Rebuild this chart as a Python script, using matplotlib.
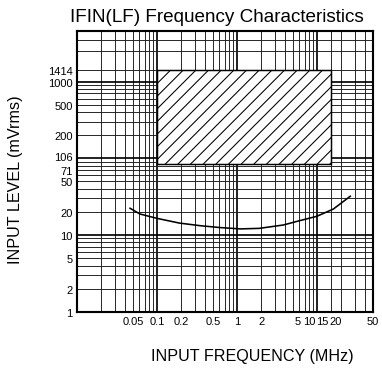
import matplotlib
matplotlib.use("Agg")
import matplotlib.pyplot as plt
import matplotlib.transforms as mtransforms
from matplotlib.patches import Rectangle

# data
freq_mhz = [0.046, 0.061, 0.099, 0.19, 0.35, 0.61, 1.1, 1.9, 3.8, 6.1, 9.9, 16, 26]
level_mvrms = [22.3, 18.8, 16.5, 14.3, 13.2, 12.5, 12.0, 12.2, 13.5, 15.4, 17.5, 21.8, 32]

# operating (hatched) region
region_freq = [0.1, 15]
region_level = [83, 1414]

x_ticks = [0.05, 0.1, 0.2, 0.5, 1, 2, 5, 10, 15, 20, 50]
x_ticklabels = ["0.05", "0.1", "0.2", "0.5", "1", "2", "5", "10", "15", "20", "50"]
y_ticks = [1, 2, 5, 10, 20, 50, 71, 106, 200, 500, 1000, 1414]
y_ticklabels = ["1", "2", "5", "10", "20", "50", "71", "106", "200", "500", "1000", "1414"]

x_major_grid = [0.1, 1, 10]
x_minor_grid = [0.02, 0.03, 0.04, 0.05, 0.06, 0.07, 0.08, 0.09,
                0.2, 0.3, 0.4, 0.5, 0.6, 0.7, 0.8, 0.9,
                2, 3, 4, 5, 6, 7, 8, 9, 15, 20, 30, 40]
y_major_grid = [10, 100, 1000]
y_minor_grid = [2, 3, 4, 5, 6, 7, 8, 9,
                20, 30, 40, 50, 60, 70, 80, 90,
                200, 300, 400, 500, 600, 700, 800, 900,
                1414, 2500, 3500]

DPI = 76.4
fig = plt.figure(figsize=(382 / DPI, 371 / DPI), dpi=DPI)
plt.rcParams['font.family'] = ['Liberation Sans', 'DejaVu Sans']
ax = fig.add_axes([77 / 382, 1 - 312.7 / 371, 296 / 382, 281 / 371])
ax.set_xscale('log')
ax.set_yscale('log')
ax.set_xlim(0.01, 50)
ax.set_ylim(1, 4600)

for v in x_minor_grid:
    ax.axvline(v, color='#222222', lw=0.9, zorder=1)
for v in x_major_grid:
    ax.axvline(v, color='black', lw=1.6, zorder=1)
for v in y_minor_grid:
    ax.axhline(v, color='#222222', lw=0.9, zorder=1)
for v in y_major_grid:
    ax.axhline(v, color='black', lw=1.6, zorder=1)

rect = Rectangle((region_freq[0], region_level[0]),
                 region_freq[1] - region_freq[0],
                 region_level[1] - region_level[0],
                 facecolor='white', edgecolor='black', hatch='//', lw=1.4, zorder=2)
ax.add_patch(rect)

ax.plot(freq_mhz, level_mvrms, color='black', lw=1.5, zorder=3)

ax.set_xticks(x_ticks)
ax.set_xticklabels(x_ticklabels)
ax.set_yticks(y_ticks)
ax.set_yticklabels(y_ticklabels)
ax.minorticks_off()
ax.tick_params(length=0, labelsize=10.5, pad=4)

# nudge crowded x labels as in the reference
offsets = {"5": 5, "10": -8, "15": -9, "20": -6}
for lbl in ax.get_xticklabels():
    dx = offsets.get(lbl.get_text(), 0)
    if dx:
        lbl.set_transform(lbl.get_transform() + mtransforms.ScaledTranslation(dx / DPI, 0, fig.dpi_scale_trans))

for sp in ax.spines.values():
    sp.set_linewidth(2.0)
    sp.set_zorder(5)

fig.text(217 / 382, 1 - 17 / 371, "IFIN(LF) Frequency Characteristics",
         ha='center', va='center', fontsize=17.8)
fig.text(252 / 382, 1 - 357 / 371, "INPUT FREQUENCY (MHz)",
         ha='center', va='center', fontsize=15.2)
fig.text(16 / 382, 1 - 180 / 371, "INPUT LEVEL (mVrms)",
         ha='center', va='center', rotation=90, fontsize=15.2)

fig.savefig("out.png", dpi=DPI)
